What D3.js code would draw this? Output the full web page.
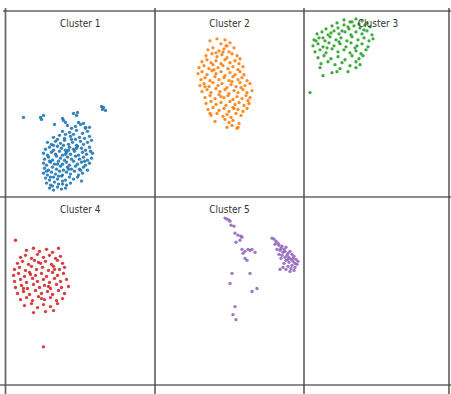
<!DOCTYPE html>
<html><head><meta charset="utf-8">
<script src="https://cdn.jsdelivr.net/npm/d3@7"></script>
<style>html,body{margin:0;padding:0;background:#fff;}svg{display:block;}</style>
</head><body>
<svg id="c" width="451" height="394"></svg>
<script>
const titles = ["Cluster 1","Cluster 2","Cluster 3","Cluster 4","Cluster 5"];
const colors = ["#1f77b4","#ff7f0e","#2ca02c","#d62728","#9467bd"];

const cluster1 = [
[18,80],[35,80],[38,82],[36,78],[49,73],[57,79],[58,77],[60,75],[68,84],[72,85],[71,82],[96,91],[98,90],[100,87],[97,88],[73,75],[78,74],[80,70],[84,70],
[62,72],[70,71],[75,73],[80,69],[66,69],
[57,66],[64,65],[71,67],[77,64],[82,66],[68,63],[60,63],
[48,60],[54,62],[59,59],[65,61],[70,58],[74,60],[79,59],[84,61],[52,58],
[42,55],[46,53],[50,56],[55,54],[59,57],[63,53],[67,55],[71,52],[75,56],[78,53],[82,55],[86,57],
[40,48],[44,50],[48,47],[52,51],[56,49],[60,47],[64,50],[68,48],[72,51],[76,49],[80,47],[84,50],[58,52],
[38,44],[42,42],[46,45],[50,43],[54,46],[57,42],[61,45],[65,43],[69,46],[73,42],[77,45],[81,43],[85,46],[63,47],
[39,38],[43,40],[47,37],[51,41],[55,39],[59,37],[62,40],[66,38],[70,41],[74,38],[78,40],[82,37],[86,39],
[38,34],[41,32],[45,35],[49,33],[53,36],[57,33],[61,35],[64,32],[68,36],[72,33],[76,35],[80,32],[84,34],
[39,29],[43,27],[47,30],[51,28],[55,31],[58,27],[62,30],[66,28],[70,31],[74,28],[78,30],[82,27],
[38,24],[42,22],[46,25],[50,23],[54,26],[57,22],[61,25],[65,23],[69,26],[73,22],[77,24],
[40,19],[44,17],[48,20],[52,18],[56,21],[60,17],[64,20],[68,18],[72,20],[76,16],
[41,14],[45,12],[49,15],[53,13],[57,16],[61,12],[65,14],
[44,9],[48,7],[52,10],[56,8],[47,11],[60,9],
[44,36],[60,43],[71,49],[53,21],[45,20],[79,36],[66,58],[52,33],[75,27],[63,28],[48,52],[41,26],[87,44],[57,13]
];

const cluster2 = [
[55,157],[62,159],[70,158],[75,155],[66,154],[72,152],
[53,148],[58,150],[64,147],[69,149],[74,146],[79,150],[61,145],
[51,142],[57,144],[62,141],[67,143],[72,140],[77,144],[82,142],[85,139],
[47,136],[52,138],[56,135],[61,137],[66,134],[70,138],[75,135],[80,137],[84,134],
[44,130],[49,132],[54,129],[58,133],[63,130],[68,132],[73,129],[78,131],[83,128],[88,131],
[43,124],[47,126],[52,123],[57,127],[61,124],[66,126],[70,122],[75,125],[80,123],[85,126],[89,123],
[46,118],[50,120],[55,117],[60,121],[64,118],[69,120],[74,117],[78,121],[83,118],[87,120],[92,117],
[45,112],[49,114],[54,111],[58,115],[63,112],[67,114],[72,110],[76,113],[81,111],[85,115],[90,112],[95,114],
[47,106],[52,108],[56,105],[61,109],[65,106],[70,108],[74,104],[79,107],[83,105],[88,108],[92,105],[97,107],
[50,100],[55,102],[60,99],[64,103],[69,100],[73,102],[78,98],[82,101],[87,99],[91,102],[95,100],
[51,94],[56,96],[61,93],[66,95],[71,92],[75,96],[80,93],[84,95],[89,92],[94,94],
[53,88],[58,90],[64,87],[69,89],[74,86],[78,90],[83,88],[88,86],[92,89],
[56,82],[62,84],[68,81],[72,83],[76,80],[81,84],[86,82],[55,84],
[60,76],[70,78],[74,75],[78,77],[84,74],
[72,70],[82,69],[77,72],[83,70],
[68,146],[59,128],[77,116],[86,110],[66,101],[79,89],[93,97],[71,152],[50,111]
];

const cluster3 = [
[33,175],[40,178],[46,176],[52,179],[58,177],[63,175],[55,174],
[22,169],[28,172],[34,170],[40,173],[45,169],[50,172],[56,170],[61,173],[66,171],[38,167],
[13,164],[18,166],[24,163],[30,167],[35,164],[41,166],[47,163],[52,166],[58,164],[63,167],[68,163],
[10,158],[15,160],[21,157],[26,161],[32,158],[37,160],[43,157],[48,161],[54,158],[60,160],[65,157],[69,159],
[9,152],[14,154],[19,151],[25,155],[30,152],[36,154],[42,151],[47,155],[53,152],[58,154],[64,151],
[11,146],[16,148],[22,145],[28,149],[34,146],[40,148],[46,145],[52,147],[57,144],[62,148],
[14,140],[20,142],[27,139],[34,141],[41,138],[48,142],[55,139],[59,142],
[17,134],[24,136],[31,133],[38,135],[46,132],[52,136],[56,133],
[16,130],[28,125],[36,129],[44,126],[52,130],[19,122],[33,126],[6,105],
[27,165],[44,171],[60,168],[19,160],[35,156],[51,150],[23,150],[12,157],[48,176]
];

const cluster4 = [
[10,144],[38,38],
[21,134],[28,136],[34,133],[41,135],[47,132],[53,136],
[15,127],[20,129],[26,126],[32,130],[38,127],[44,129],[50,126],[55,128],
[12,121],[17,123],[23,120],[29,124],[35,121],[40,123],[46,120],[52,124],[57,121],
[9,115],[14,117],[20,114],[26,118],[31,115],[37,117],[43,114],[48,118],[54,115],[59,117],
[8,109],[13,111],[19,108],[24,112],[30,109],[36,111],[41,108],[47,112],[52,109],[58,111],
[9,103],[15,105],[21,102],[27,106],[32,103],[38,105],[44,102],[49,106],[55,103],[61,105],
[10,97],[16,99],[22,96],[28,100],[34,97],[39,99],[45,96],[51,100],[56,97],[63,98],
[12,91],[18,93],[24,90],[30,94],[36,91],[42,93],[47,90],[53,94],[59,91],
[15,85],[21,87],[27,84],[33,88],[39,85],[45,87],[51,84],[57,86],
[19,79],[26,81],[32,77],[38,80],[45,78],[52,81],
[28,72],[40,73],[48,74],
[25,110],[43,98],[33,122],[18,96],[49,115],[36,86]
];

const cluster5 = [
[70,166],[72,165],[75,163],[76,159],[79,158],[74,164],
[80,151],[83,149],[86,148],[81,142],[85,144],[87,147],
[87,135],[90,133],[93,135],[95,134],[97,135],[100,132],[90,126],[92,124],[88,131],
[77,111],[75,101],[95,111],[97,93],[102,96],[80,78],[78,70],[81,65],
[117,146],[119,145],[121,143],[123,141],[120,140],[122,135],[125,115],
[124,139],[127,138],[126,136],[129,135],[131,137],[125,134],[128,132],
[130,133],[133,131],[135,133],[132,129],[134,127],[137,130],[139,128],[136,125],
[130,127],[127,129],[131,124],[134,122],[138,123],[141,125],[140,121],[137,119],
[129,121],[133,118],[136,116],[140,117],[142,120],[139,114],[135,113],[131,115],
[126,126],[124,130],[143,123],[128,117],[133,125],[138,126]
];

const clusters = [cluster1, cluster2, cluster3, cluster4, cluster5];

const colEdges = [5.5, 155, 304, 449];
const rowEdges = [11, 197, 385];

const svg = d3.select("#c");

const gLines = svg.append("g").attr("stroke", "#4a4a4a").attr("stroke-width", 1.7).attr("stroke-opacity", 0.85);
rowEdges.forEach(y => gLines.append("line").attr("x1", y === 11 ? 3 : 0).attr("x2", 451).attr("y1", y).attr("y2", y));
colEdges.forEach(x => gLines.append("line").attr("x1", x).attr("x2", x).attr("y1", 8).attr("y2", 394));

clusters.forEach((pts, i) => {
  const col = i % 3, row = Math.floor(i / 3);
  const x0 = colEdges[col], top = rowEdges[row], bottom = rowEdges[row + 1];
  const xs = d3.scaleLinear().domain([0, 150]).range([x0, x0 + 150]);
  const ys = d3.scaleLinear().domain([0, 187]).range([bottom, top]);
  const g = svg.append("g");
  g.selectAll("circle").data(pts).join("circle")
    .attr("cx", d => xs(d[0])).attr("cy", d => ys(d[1]))
    .attr("r", 1.65).attr("fill", colors[i]).attr("fill-opacity", 0.9);
  const xc = (x0 + colEdges[col + 1]) / 2;
  svg.append("text").attr("x", xc + (col === 2 ? 1.5 : 0)).attr("y", top + 16)
    .attr("text-anchor", "middle")
    .attr("font-family", "'Liberation Sans Narrow','DejaVu Sans Condensed',sans-serif")
    .attr("font-size", 10).attr("fill", "#333")
    .text(titles[i]);
});
</script>
</body></html>
